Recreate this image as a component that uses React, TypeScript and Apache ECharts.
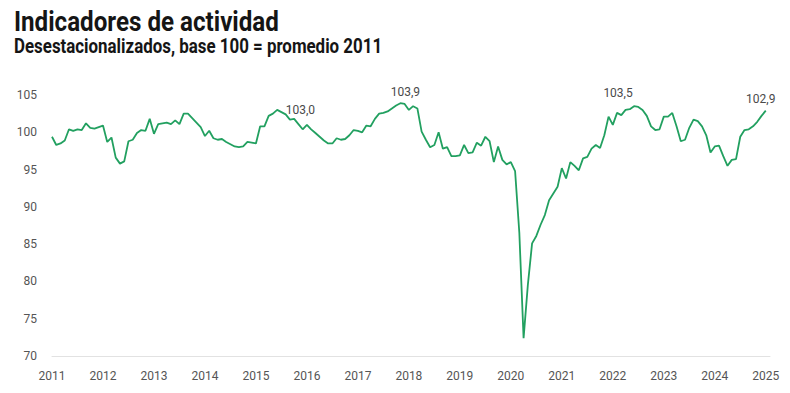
import React, { useEffect, useRef } from "react";
import * as echarts from "echarts";

// Monthly index, seasonally adjusted, base 100 = average 2011 (Jan 2011 .. Jan 2025)
const VALUES: number[] = [
  // 2011
  99.4, 98.3, 98.5, 98.9, 100.4, 100.2, 100.4, 100.3, 101.2, 100.6, 100.5, 100.7,
  // 2012
  100.9, 98.7, 99.3, 96.6, 95.8, 96.1, 98.8, 99.0, 99.9, 100.3, 100.2, 101.8,
  // 2013
  99.8, 101.1, 101.2, 101.3, 101.1, 101.6, 101.1, 102.5, 102.5, 101.9, 101.3, 100.7,
  // 2014
  99.5, 100.2, 99.2, 99.0, 99.1, 98.7, 98.4, 98.1, 98.0, 98.1, 98.7, 98.6,
  // 2015
  98.5, 100.8, 100.8, 102.2, 102.5, 103.0, 102.7, 102.4, 101.7, 101.8, 101.1, 100.4,
  // 2016
  101.0, 100.4, 99.9, 99.4, 98.9, 98.5, 98.5, 99.2, 99.0, 99.1, 99.6, 100.3,
  // 2017
  100.2, 100.0, 100.9, 100.8, 101.8, 102.5, 102.6, 102.8, 103.2, 103.6, 103.9, 103.8,
  // 2018
  103.0, 103.5, 103.2, 100.1, 99.0, 98.0, 98.3, 100.0, 97.8, 98.0, 96.8, 96.8,
  // 2019
  96.9, 98.3, 97.2, 97.3, 98.6, 98.2, 99.4, 98.8, 96.0, 98.1, 96.3, 95.7,
  // 2020
  96.0, 94.8, 86.5, 72.4, 79.5, 85.1, 86.1, 87.6, 88.9, 90.9, 91.8, 92.7,
  // 2021
  95.2, 93.8, 96.0, 95.5, 94.9, 96.5, 96.7, 97.8, 98.3, 97.9, 99.6, 102.1,
  // 2022
  101.0, 102.6, 102.3, 103.0, 103.1, 103.5, 103.4, 103.0, 102.2, 100.8, 100.3, 100.4,
  // 2023
  102.1, 102.1, 102.6, 100.8, 98.8, 99.0, 100.6, 101.7, 101.5, 100.8, 99.6, 97.3,
  // 2024
  98.1, 98.2, 96.8, 95.5, 96.3, 96.4, 99.4, 100.3, 100.4, 100.8, 101.4, 102.2,
  // 2025
  102.9,
];

const YEAR_LABELS: string[] = [
  "2011", "2012", "2013", "2014", "2015", "2016", "2017", "2018",
  "2019", "2020", "2021", "2022", "2023", "2024", "2025",
];

const Y_TICKS: number[] = [70, 75, 80, 85, 90, 95, 100, 105];

// indices of annotated points
const LABELED_POINTS: number[] = [53, 82, 137, 168];

const TITLE = "Indicadores de actividad";
const SUBTITLE = "Desestacionalizados, base 100 = promedio 2011";

const LINE_COLOR = "#22a060";

const labelStyles: Record<number, any> = {
  53: { position: "right", distance: 8, offset: [0, 0] },
  82: { position: "top", distance: 5, offset: [5, 0] },
  137: { position: "top", distance: 5, offset: [-16, -2] },
  168: { position: "top", distance: 5, offset: [-5, 0] },
};

const fmt = (v: number) => v.toFixed(1).replace(".", ",");

export default function App() {
  const ref = useRef<HTMLDivElement>(null);

  useEffect(() => {
    if (!ref.current) return;
    const chart = echarts.init(ref.current, undefined, { renderer: "svg" });

    const data = VALUES.map((v, i) => [i, v]);

    const markData = LABELED_POINTS.map((i) => ({
      coord: [i, VALUES[i]],
      value: VALUES[i],
      label: {
        show: true,
        formatter: () => fmt(VALUES[i]),
        color: "#4a4a4a",
        fontSize: 12,
        fontFamily: "Roboto",
        ...(labelStyles[i] || { position: "top" }),
      },
    }));

    chart.setOption({
      animation: false,
      backgroundColor: "#ffffff",
      textStyle: { fontFamily: "Roboto" },
      grid: { left: 52, right: 20, top: 95, bottom: 37, containLabel: false },
      graphic: [
        {
          type: "text",
          left: 14,
          top: 8,
          scaleX: 0.895,
          originX: 0,
          style: {
            text: TITLE,
            fill: "#151515",
            font: "bold 27px Roboto",
          },
        },
        {
          type: "text",
          left: 14,
          top: 37,
          scaleX: 0.845,
          originX: 0,
          style: {
            text: SUBTITLE,
            fill: "#151515",
            font: "bold 20px Roboto",
          },
        },
      ],
      xAxis: {
        type: "value",
        min: 0,
        max: 169,
        interval: 12,
        splitLine: { show: false },
        axisTick: { show: false },
        axisLine: { show: true, onZero: false, lineStyle: { color: "#e2e2e2", width: 1 } },
        axisLabel: {
          color: "#555",
          fontSize: 12,
          fontFamily: "Roboto",
          margin: 14,
          showMaxLabel: true,
          formatter: (v: number) => (v % 12 === 0 ? YEAR_LABELS[v / 12] ?? "" : ""),
        },
      },
      yAxis: {
        type: "value",
        min: Y_TICKS[0],
        max: Y_TICKS[Y_TICKS.length - 1],
        interval: 5,
        splitLine: { show: false },
        axisLine: { show: false },
        axisTick: { show: false },
        axisLabel: {
          color: "#555",
          fontSize: 12,
          fontFamily: "Roboto",
          margin: 15,
        },
      },
      series: [
        {
          type: "line",
          data,
          symbol: "none",
          showSymbol: false,
          lineStyle: { color: LINE_COLOR, width: 1.8 },
          itemStyle: { color: LINE_COLOR },
          z: 3,
          markPoint: {
            symbol: "circle",
            symbolSize: 1,
            itemStyle: { color: "rgba(0,0,0,0)" },
            silent: true,
            data: markData,
          },
        },
      ],
    });

    return () => chart.dispose();
  }, []);

  return (
    <div
      ref={ref}
      style={{ position: "fixed", left: 0, top: 0, width: 790, height: 393, background: "#fff" }}
    />
  );
}
